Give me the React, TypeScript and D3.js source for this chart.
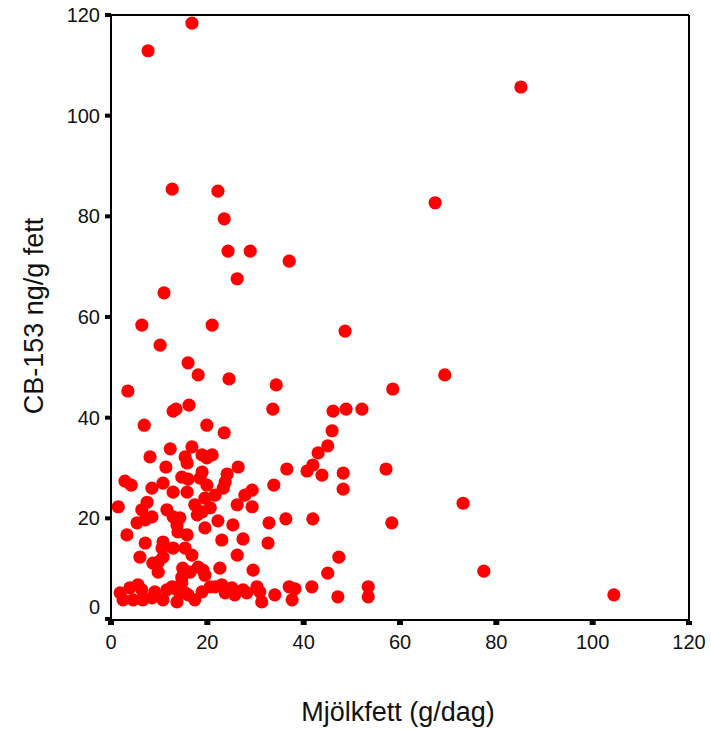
import React from "react";
import * as d3 from "d3";

// Milk fat intake (g/day) per person
const milkFat: number[] = [
  7.7, 16.8, 85.1, 12.7, 22.2, 23.5, 67.3, 24.3, 28.9, 37.0, 26.2, 11.0, 6.4, 21.0, 48.6, 10.2, 16.0, 18.1, 24.5, 34.3,
  3.5, 12.9, 13.5, 16.2, 33.6, 6.9, 19.9, 23.5, 69.3, 58.5, 46.1, 48.8, 52.1, 45.9,
  45.0, 43.0, 41.9, 40.7, 43.8, 48.2, 48.2, 57.1, 36.5, 73.1, 36.3, 41.9, 58.3, 33.8, 32.8, 32.6, 47.3, 45.0, 77.4, 104.4,
  12.3, 16.8, 8.1, 15.4, 15.8, 18.9, 21.0, 19.9, 11.4, 26.4, 14.7, 16.0, 18.9, 18.5, 24.1, 4.2, 2.9, 8.5, 10.8, 19.9,
  23.7, 12.9, 15.8, 19.5, 21.6, 23.3, 29.3, 27.8, 7.5, 6.4, 11.6, 12.9, 14.3, 17.4, 17.9, 18.9, 20.6, 26.2, 29.3, 5.4,
  7.1, 8.5, 13.7, 13.9, 15.8, 19.5, 22.2, 25.3, 7.1, 10.8, 10.6, 12.9, 15.4, 16.8, 23.0, 27.4, 6.0, 8.7, 9.8, 10.8,
  26.2, 14.9, 18.1, 19.1, 22.6, 29.5, 9.8, 1.5, 3.3,
  14.7, 19.5, 16.4,
  1.9, 2.5, 3.9, 4.6, 5.6, 6.4, 6.6, 8.5, 9.1, 10.8, 11.6, 12.7, 13.7, 13.7, 14.7, 15.4, 16.0, 17.4, 18.9, 20.6,
  21.6, 23.0, 23.7, 25.1, 25.7, 27.4, 28.2, 30.3, 30.9, 31.3, 34.0, 37.0, 38.2, 37.6, 41.7, 47.1, 53.4, 53.4,
];

// CB-153 concentration (ng/g fat) for the same persons
const cb153: number[] = [
  112.9, 118.4, 105.7, 85.4, 85.0, 79.5, 82.7, 73.1, 73.1, 71.1, 67.6, 64.8, 58.4, 58.4, 57.2, 54.4, 50.9, 48.5, 47.7, 46.5,
  45.3, 41.3, 41.7, 42.5, 41.7, 38.5, 38.5, 37.0, 48.5, 45.7, 41.3, 41.7, 41.7, 37.4,
  34.4, 33.0, 30.6, 29.4, 28.6, 29.0, 25.8, 29.8, 29.8, 23.0, 19.9, 19.9, 19.1, 26.6, 19.1, 15.1, 12.3, 9.1, 9.5, 4.8,
  33.8, 34.2, 32.2, 32.2, 31.0, 32.6, 32.6, 32.0, 30.2, 30.2, 28.2, 27.8, 29.2, 28.0, 28.8, 26.6, 27.4, 26.0, 27.0, 26.6,
  27.2, 25.2, 25.2, 24.0, 24.6, 26.0, 25.6, 24.6, 23.2, 21.7, 21.7, 20.3, 20.1, 22.7, 20.7, 21.3, 22.1, 22.7, 22.3, 19.1,
  19.7, 20.3, 18.7, 17.3, 16.7, 18.1, 19.5, 18.7, 15.1, 15.3, 14.1, 14.1, 14.1, 12.7, 15.7, 15.9, 12.3, 11.1, 11.3, 12.3,
  12.7, 10.1, 10.3, 9.7, 10.1, 9.7, 9.3, 22.3, 16.7,
  8.3, 8.7, 9.3,
  5.2, 3.8, 6.2, 3.8, 6.8, 5.8, 3.8, 4.2, 5.4, 3.8, 5.8, 6.4, 5.8, 3.4, 7.2, 5.2, 4.8, 3.8, 5.4, 6.4,
  6.4, 6.8, 5.2, 6.2, 4.8, 5.8, 5.2, 6.4, 5.4, 3.4, 4.8, 6.4, 6.0, 3.8, 6.4, 4.4, 6.4, 4.4,
];

const xTicks: number[] = [0, 20, 40, 60, 80, 100, 120];
const yTicks: number[] = [0, 20, 40, 60, 80, 100, 120];

const xTitle = "Mjölkfett (g/dag)";
const yTitle = "CB-153 ng/g fett";

const FONT = "'Liberation Sans', Arial, Helvetica, sans-serif";

export default function App() {
  const width = 711;
  const height = 729;
  const left = 111;
  const right = 689;
  const top = 15;
  const bottom = 619;

  const x = d3.scaleLinear().domain([0, 120]).range([left, right]);
  const y = d3.scaleLinear().domain([0, 120]).range([bottom, top]);

  const points = milkFat.map((v, i) => ({ x: v, y: cb153[i] }));

  return (
    <svg
      width={width}
      height={height}
      style={{ position: "absolute", left: 0, top: 0, background: "#fff" }}
      fontFamily={FONT}
    >
      <rect x={0} y={0} width={width} height={height} fill="#fff" />

      {/* points */}
      <g fill="#ff0000">
        {points.map((p, i) => (
          <circle key={i} cx={x(p.x)} cy={y(p.y)} r={6.6} />
        ))}
      </g>

      {/* frame */}
      <g stroke="#000" strokeWidth={2} fill="none">
        <line x1={left} y1={top} x2={right} y2={top} />
        <line x1={right} y1={top} x2={right} y2={bottom + 1} />
        <line x1={left} y1={bottom + 1} x2={right + 1} y2={bottom + 1} />
        <line x1={left} y1={top - 1} x2={left} y2={bottom + 2} />
      </g>

      {/* y ticks */}
      <g>
        {yTicks.map((t) => (
          <g key={t}>
            <rect x={left - 6} y={y(t) - 2} width={6} height={4} fill="#000" />
            <text
              x={100}
              y={y(t) + (t === 0 ? -12 : 0)}
              textAnchor="end"
              dominantBaseline="central"
              fontSize={20}
              fill="#111"
            >
              {t}
            </text>
          </g>
        ))}
      </g>

      {/* x ticks */}
      <g>
        {xTicks.map((t) => (
          <g key={t}>
            <rect x={x(t) - 3} y={bottom + 2} width={6} height={4} fill="#000" />
            <text
              x={x(t)}
              y={642}
              textAnchor="middle"
              dominantBaseline="central"
              fontSize={20}
              fill="#111"
            >
              {t}
            </text>
          </g>
        ))}
      </g>

      {/* axis titles */}
      <text
        x={398}
        y={712}
        textAnchor="middle"
        dominantBaseline="central"
        fontSize={27}
        fill="#111"
      >
        {xTitle}
      </text>
      <text
        transform={`translate(34, 316) rotate(-90)`}
        textAnchor="middle"
        dominantBaseline="central"
        fontSize={27}
        fill="#111"
      >
        {yTitle}
      </text>
    </svg>
  );
}
